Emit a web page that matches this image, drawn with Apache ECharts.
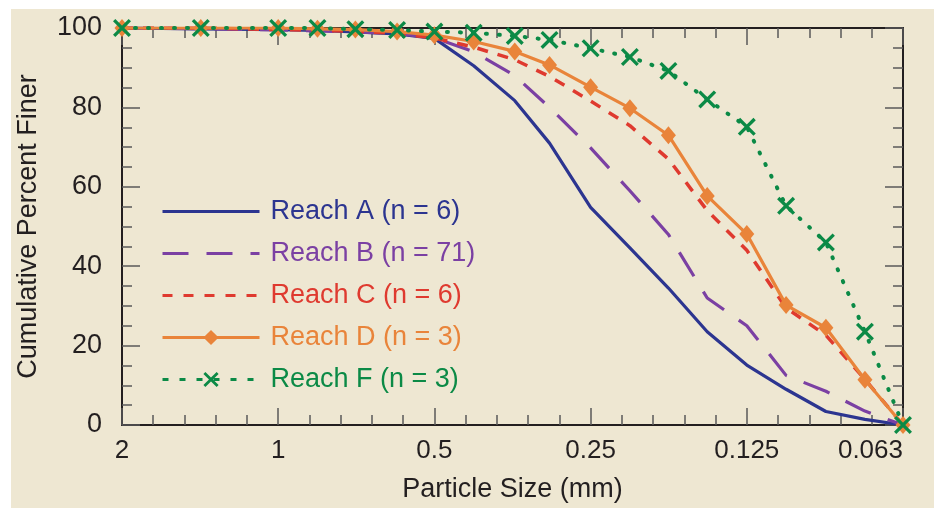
<!DOCTYPE html>
<html>
<head>
<meta charset="utf-8">
<script src="https://cdn.jsdelivr.net/npm/echarts@6/dist/echarts.min.js"></script>
<style>
  html, body { margin: 0; padding: 0; background: #fff; }
  #chart { width: 944px; height: 508px; }
</style>
</head>
<body>
<div id="chart"></div>
<script>
// sieve sizes (mm), quarter-phi steps from 2 down to 0.063
const sizes = [2, 1.41, 1, 0.84, 0.71, 0.59, 0.5, 0.42, 0.35, 0.30, 0.25, 0.21, 0.177, 0.149, 0.125, 0.105, 0.088, 0.074, 0.0625]

// cumulative percent finer per reach
const reachA = [100, 99.8, 99.6, 99.4, 99.0, 98.5, 97.4, 90.5, 81.7, 71.0, 54.8, 44.6, 34.5, 23.5, 15.1, 9.0, 3.4, 1.4, 0]
const reachB = [100, 99.8, 99.5, 99.3, 99.0, 98.6, 97.5, 94.0, 88.0, 80.0, 69.8, 59.0, 48.0, 32.0, 25.0, 12.5, 8.5, 3.5, 0]
const reachC = [100, 100, 99.6, 99.4, 99.2, 98.6, 97.5, 95.2, 92.0, 87.8, 81.6, 75.4, 67.0, 54.0, 44.0, 29.5, 22.6, 11.5, 0]
const reachD = [100, 100, 100, 99.8, 99.6, 99.1, 98.2, 96.6, 94.1, 90.7, 85.1, 79.8, 73.0, 57.7, 48.1, 30.2, 24.5, 11.4, 0]
const reachF = [100, 100, 100, 100, 99.7, 99.5, 99.1, 98.8, 98.0, 97.0, 94.9, 92.7, 89.2, 82.0, 75.1, 55.2, 46.0, 23.5, 0]

const seriesNames = ['Reach A (n = 6)', 'Reach B (n = 71)', 'Reach C (n = 6)', 'Reach D (n = 3)', 'Reach F (n = 3)']

// x tick labels
const xTickValues = [2, 1, 0.5, 0.25, 0.125, 0.0625]
const xTickLabels = ['2', '1', '0.5', '0.25', '0.125', '0.063']

const colors = {
  A: '#2c3590',
  B: '#7b40a3',
  C: '#df3a2f',
  D: '#e9843a',
  F: '#0b8a46',
  text: '#231f20',
  axis: '#231f20',
  tick: '#5a5a5a'
}

const pairs = arr => sizes.map((s, i) => [s, arr[i]])

const font = 'Liberation Sans, Arial, Helvetica, sans-serif'
// X marker drawn as two filled bars
const crossPath = 'path://M0,1.3L1.3,0L10,8.7L8.7,10Z M8.7,0L10,1.3L1.3,10L0,8.7Z'

const myChart = echarts.init(document.getElementById('chart'), null, { renderer: 'canvas' })

const tickLabel = v => {
  let best = 0
  xTickValues.forEach((t, i) => {
    if (Math.abs(Math.log(t) - Math.log(v)) < Math.abs(Math.log(xTickValues[best]) - Math.log(v))) best = i
  })
  return xTickLabels[best]
}

const logAxis = (pos, withLabels) => ({
  type: 'log',
  logBase: 2,
  min: 0.0625,
  max: 2,
  inverse: true,
  position: pos,
  splitNumber: 5,
  name: withLabels ? 'Particle Size (mm)' : '',
  nameLocation: 'middle',
  nameGap: 51,
  nameTextStyle: { fontFamily: font, fontSize: 27, color: colors.text },
  axisLine: { show: true, onZero: false, lineStyle: { color: colors.axis, width: 2 } },
  axisTick: { show: true, inside: true, length: 17, lineStyle: { color: colors.tick, width: 1.5 } },
  axisLabel: {
    show: withLabels,
    margin: 13,
    fontFamily: font,
    fontSize: 26,
    color: colors.text,
    formatter: tickLabel,
    alignMinLabel: 'right'
  },
  splitLine: { show: false }
})

// helper axis for the 1/5 octave minor ticks (exponent of 2)
const helperAxis = pos => ({
  type: 'value',
  min: -4,
  max: 1,
  interval: 0.2,
  inverse: true,
  position: pos,
  axisLine: { show: false, onZero: false },
  axisTick: { show: true, inside: true, length: 10, lineStyle: { color: colors.tick, width: 1.5 } },
  axisLabel: { show: false },
  splitLine: { show: false }
})

const valAxis = (pos, withLabels) => ({
  type: 'value',
  min: 0,
  max: 100,
  interval: 20,
  position: pos,
  name: withLabels ? 'Cumulative Percent Finer' : '',
  nameLocation: 'middle',
  nameGap: 80,
  nameTextStyle: { fontFamily: font, fontSize: 27, color: colors.text },
  axisLine: { show: true, onZero: false, lineStyle: { color: colors.axis, width: 2 } },
  axisTick: { show: true, inside: true, length: 18, lineStyle: { color: colors.tick, width: 1.5 } },
  minorTick: { show: true, splitNumber: 4, length: 10, lineStyle: { color: colors.tick, width: 1.5 } },
  axisLabel: { show: withLabels, margin: 20, fontFamily: font, fontSize: 27, color: colors.text },
  splitLine: { show: false },
  minorSplitLine: { show: false }
})

const noMarker = { opacity: 0 }

const option = {
  backgroundColor: '#ffffff',
  animation: false,
  graphic: [{
    type: 'rect',
    left: 11,
    top: 9,
    z: -10,
    silent: true,
    shape: { width: 923, height: 499 },
    style: { fill: '#eee7d2' }
  }],
  grid: { left: 122, right: 41, top: 28, bottom: 81, containLabel: false },
  legend: {
    orient: 'vertical',
    left: 156,
    top: 193,
    itemWidth: 97,
    itemHeight: 19,
    itemGap: 15,
    selectedMode: false,
    lineStyle: { width: 3 },
    textStyle: { fontFamily: font, fontSize: 27, padding: [0, 0, 0, 6] },
    data: [
      { name: seriesNames[0], textStyle: { color: colors.A }, itemStyle: noMarker },
      { name: seriesNames[1], textStyle: { color: colors.B }, itemStyle: noMarker, lineStyle: { type: [26, 18] } },
      { name: seriesNames[2], textStyle: { color: colors.C }, itemStyle: noMarker, lineStyle: { type: [10, 11] } },
      { name: seriesNames[3], textStyle: { color: colors.D } },
      { name: seriesNames[4], textStyle: { color: colors.F }, lineStyle: { type: [6, 11], cap: 'butt' } }
    ]
  },
  xAxis: [logAxis('bottom', true), logAxis('top', false), helperAxis('bottom'), helperAxis('top')],
  yAxis: [valAxis('left', true), valAxis('right', false)],
  series: [
    {
      name: seriesNames[0],
      type: 'line',
      data: pairs(reachA),
      symbol: 'none',
      lineStyle: { color: colors.A, width: 3.2 },
      itemStyle: { color: colors.A },
      emphasis: { disabled: true }
    },
    {
      name: seriesNames[1],
      type: 'line',
      data: pairs(reachB),
      symbol: 'none',
      lineStyle: { color: colors.B, width: 3.2, type: [28, 18] },
      itemStyle: { color: colors.B },
      emphasis: { disabled: true }
    },
    {
      name: seriesNames[2],
      type: 'line',
      data: pairs(reachC),
      symbol: 'none',
      lineStyle: { color: colors.C, width: 3.5, type: [11, 10] },
      itemStyle: { color: colors.C },
      emphasis: { disabled: true }
    },
    {
      name: seriesNames[3],
      type: 'line',
      data: pairs(reachD),
      symbol: 'diamond',
      symbolSize: [15, 18],
      lineStyle: { color: colors.D, width: 3.2 },
      itemStyle: { color: colors.D },
      emphasis: { disabled: true }
    },
    {
      name: seriesNames[4],
      type: 'line',
      data: pairs(reachF),
      symbol: crossPath,
      symbolSize: 18,
      lineStyle: { color: colors.F, width: 4, type: [1, 12], cap: 'round' },
      itemStyle: { color: colors.F },
      emphasis: { disabled: true }
    }
  ]
}

myChart.setOption(option)
</script>
</body>
</html>
